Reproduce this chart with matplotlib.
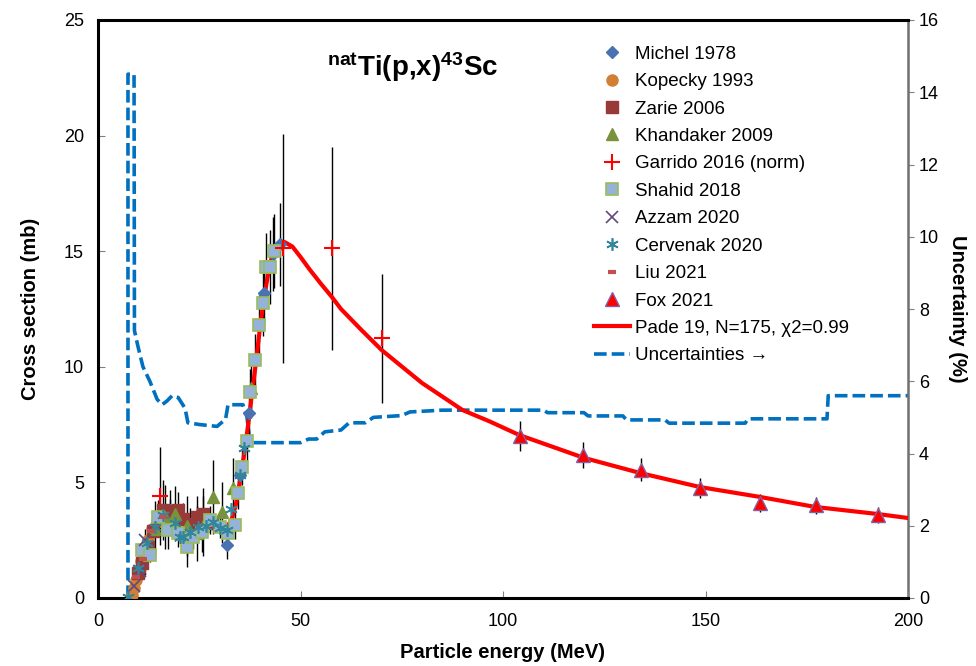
import matplotlib
matplotlib.use("Agg")
import matplotlib.pyplot as plt
from matplotlib.lines import Line2D

plt.rcParams['font.family'] = ['Liberation Sans', 'DejaVu Sans']
plt.rcParams['mathtext.fontset'] = 'custom'
plt.rcParams['mathtext.rm'] = 'Liberation Sans'
plt.rcParams['mathtext.bf'] = 'Liberation Sans:bold'

# ---- data ----
michel_e = [17.8, 31.8, 35.1, 37.2, 41.0, 43.2, 45.0]
michel_y = [3.8, 2.3, 5.3, 8.0, 13.2, 14.9, 15.3]
michel_err = [0.5, 0.6, 0.6, 0.9, 1.4, 1.6, 1.8]

kopecky_e = [8.3, 8.8, 9.4, 10.0, 10.7, 11.5, 12.4, 13.4, 14.5]
kopecky_y = [0.15, 0.45, 0.8, 1.15, 1.6, 2.0, 2.5, 3.0, 3.3]

zarie_e = [9.9, 10.8, 12.4, 13.7, 14.9, 16.1, 17.8, 19.8, 21.1, 22.6, 24.4, 26.0]
zarie_y = [1.07, 1.5, 2.2, 2.9, 3.45, 3.8, 3.75, 3.8, 3.4, 3.2, 3.5, 3.65]
zarie_err = [0.3, 0.4, 0.5, 0.7, 0.8, 1.3, 0.9, 0.8, 0.7, 0.7, 0.9, 1.1]

khandaker_e = [11.5, 14.0, 16.5, 19.0, 21.9, 24.5, 26.0, 28.4, 30.5, 33.4, 37.9]
khandaker_y = [2.0, 3.0, 3.5, 3.65, 3.1, 2.8, 3.1, 4.35, 3.7, 4.75, 9.1]
khandaker_err = [1.0, 1.2, 1.4, 1.2, 1.3, 1.2, 1.3, 1.6, 1.3, 1.3, 1.3]

garrido_e = [15.3, 45.7, 57.7, 70.0]
garrido_y = [4.41, 15.12, 15.12, 11.23]
garrido_err = [2.1, 4.95, 4.4, 2.8]

shahid_e = [10.8, 12.8, 14.9, 17.3, 19.8, 21.9, 23.5, 25.6, 27.7, 30.1, 32.1,
            33.8, 34.6, 35.5, 36.7, 37.5, 38.8, 39.8, 40.7, 41.6, 42.5, 43.5]
shahid_y = [2.08, 1.86, 3.52, 2.94, 2.8, 2.22, 2.64, 2.87, 3.37, 3.08, 2.8,
            3.16, 4.53, 5.68, 6.8, 8.9, 10.3, 11.8, 12.75, 14.3, 14.3, 15.0]
shahid_err = [0.3, 0.3, 0.5, 0.8, 0.6, 0.9, 0.5, 0.9, 0.6, 0.5, 0.5,
              0.6, 0.7, 0.8, 0.9, 1.0, 1.1, 1.3, 1.4, 1.5, 1.6, 1.6]

azzam_e = [9.0, 10.4, 11.6]
azzam_y = [0.5, 1.15, 2.5]

cervenak_e = [7.5, 9.9, 12.0, 14.1, 16.1, 19.0, 20.2, 21.1, 22.7, 24.8, 26.6,
              28.5, 30.1, 31.8, 32.8, 35.1, 36.1]
cervenak_y = [0.06, 1.28, 2.36, 3.08, 3.59, 3.23, 2.65, 2.65, 2.85, 3.08, 3.12,
              3.3, 3.01, 2.94, 3.85, 5.3, 6.5]

liu_e = [9.5, 11.0, 13.0, 16.0]
liu_y = [0.9, 1.7, 2.9, 3.5]

fox_e = [104.2, 119.8, 134.0, 148.6, 163.5, 177.3, 192.6]
fox_y = [7.0, 6.19, 5.54, 4.76, 4.11, 4.02, 3.59]
fox_err = [0.65, 0.55, 0.5, 0.45, 0.37, 0.37, 0.34]

pade_e = [7.5, 9, 10, 11, 12, 13, 14, 15, 17, 19, 21, 23, 25, 27, 29, 31, 32, 33,
          34, 35, 36, 37, 38, 39, 40, 41, 42, 43, 44, 45, 46, 47, 48, 50, 52.3,
          55, 57.7, 60, 65, 70, 80, 90, 96.8, 104, 120, 134, 148.6, 163.5, 177,
          192.6, 200]
pade_y = [0.0, 0.6, 1.2, 1.8, 2.3, 2.8, 3.2, 3.45, 3.6, 3.55, 3.4, 3.2, 3.1,
          3.05, 3.0, 3.0, 3.1, 3.4, 4.0, 5.0, 6.1, 7.4, 8.8, 10.2, 11.7, 13.0,
          14.0, 14.8, 15.2, 15.4, 15.4, 15.3, 15.2, 14.75, 14.2, 13.6, 13.03,
          12.5, 11.6, 10.73, 9.3, 8.13, 7.63, 7.05, 6.06, 5.4, 4.8, 4.37, 3.94,
          3.63, 3.46]

unc_e = [7.4, 7.4, 8.9, 9.0, 9.9, 11.1, 12.8, 14.6, 15.8, 17.0, 18.3, 19.8,
         21.5, 22.2, 25.2, 29.4, 31.5, 32.1, 35.8, 36.8, 37.5, 43, 50, 52, 54,
         56, 60, 62, 66, 68, 75, 77, 85, 110, 111, 120, 121, 129.6, 130.5, 140,
         141, 159.8, 160.5, 180, 180.3, 200]
unc_p = [0, 14.5, 14.5, 7.4, 6.95, 6.4, 6.0, 5.5, 5.35, 5.45, 5.6, 5.55, 5.25,
         4.85, 4.8, 4.75, 4.95, 5.35, 5.35, 5.0, 4.3, 4.3, 4.3, 4.4, 4.4, 4.6,
         4.65, 4.85, 4.85, 5.0, 5.05, 5.15, 5.2, 5.2, 5.13, 5.13, 5.04, 5.04,
         4.93, 4.93, 4.84, 4.84, 4.96, 4.96, 5.6, 5.6]

fig = plt.figure(figsize=(9.76, 6.66), dpi=100)
ax = fig.add_axes([98 / 976, 68 / 666, 810 / 976, 578 / 666])
ax2 = ax.twinx()
ax.set_zorder(ax2.get_zorder() + 1)
ax.patch.set_visible(False)

# uncertainties on the right axis
ax2.plot(unc_e, unc_p, color='#0070c0', lw=2.6, dashes=(3.5, 1.4))

# error bars
eb = dict(fmt='none', ecolor='black', elinewidth=1.0, capsize=0, zorder=1)
ax.errorbar(michel_e, michel_y, yerr=michel_err, **eb)
ax.errorbar(zarie_e, zarie_y, yerr=zarie_err, **eb)
ax.errorbar(khandaker_e, khandaker_y, yerr=khandaker_err, **eb)
ax.errorbar(garrido_e, garrido_y, yerr=garrido_err, **eb)
ax.errorbar(shahid_e, shahid_y, yerr=shahid_err, **eb)
ax.errorbar(fox_e, fox_y, yerr=fox_err, **eb)

ax.plot(pade_e, pade_y, color='#ff0000', lw=3.0, zorder=2)

ms = 8
h_michel, = ax.plot(michel_e, michel_y, 'D', color='#4a72b0', ms=6.5, ls='none', zorder=3)
h_kop, = ax.plot(kopecky_e, kopecky_y, 'o', color='#d07f35', ms=ms, ls='none', zorder=3)
h_zarie, = ax.plot(zarie_e, zarie_y, 's', color='#983b38', ms=ms, ls='none', zorder=3)
h_khan, = ax.plot(khandaker_e, khandaker_y, '^', color='#77933c', ms=ms + 1, ls='none', zorder=3)
h_garr, = ax.plot(garrido_e, garrido_y, '+', color='#ff0000', ms=11, mew=1.5, ls='none', zorder=4)
h_shah, = ax.plot(shahid_e, shahid_y, 's', mfc='#95b3d7', mec='#9bbb59', mew=1.2, ms=ms + 1, ls='none', zorder=3)
h_azz, = ax.plot(azzam_e, azzam_y, 'x', color='#604a7b', ms=ms, mew=1.2, ls='none', zorder=4)
h_cerv, = ax.plot(cervenak_e, cervenak_y, marker=(6, 2, 0), color='#31859c', ms=ms + 1, mew=1.2, ls='none', zorder=4)
h_liu, = ax.plot(liu_e, liu_y, '_', color='#c0504d', ms=6, mew=3, ls='none', zorder=4)
h_fox, = ax.plot(fox_e, fox_y, '^', mfc='#ff0000', mec='#8064a2', mew=1, ms=ms + 2, ls='none', zorder=4)
h_pade = Line2D([], [], color='#ff0000', lw=3.0)
h_unc = Line2D([], [], color='#0070c0', lw=2.6, dashes=(3.5, 1.4))

ax.set_xlim(0, 200)
ax.set_ylim(0, 25)
ax2.set_ylim(0, 16)
ax.set_xticks([0, 50, 100, 150, 200])
ax.set_yticks([0, 5, 10, 15, 20, 25])
ax2.set_yticks([0, 2, 4, 6, 8, 10, 12, 14, 16])

ax.tick_params(axis='both', direction='in', length=5, color='#808080', labelsize=13)
ax.tick_params(axis='x', pad=11)
ax.tick_params(axis='y', pad=10)
ax2.tick_params(axis='y', direction='out', length=4, color='#808080', labelsize=13, pad=4)

for s in ['left', 'bottom', 'top']:
    ax.spines[s].set_linewidth(2.2)
    ax.spines[s].set_color('black')
ax.spines['right'].set_visible(False)
for s in ['left', 'bottom', 'top']:
    ax2.spines[s].set_visible(False)
ax2.spines['right'].set_linewidth(1.8)
ax2.spines['right'].set_color('#707070')

ax.set_xlabel('Particle energy (MeV)', fontsize=14.5, fontweight='bold', labelpad=9)
ax.set_ylabel('Cross section (mb)', fontsize=14.5, fontweight='bold', labelpad=17)
ax2.set_ylabel('Uncertainty (%)', fontsize=14.5, fontweight='bold', rotation=270, labelpad=20)

ax.text(0.388, 0.919, r'$\mathbf{^{nat}Ti(p{,}x)^{43}Sc}$', transform=ax.transAxes,
        ha='center', va='center', fontsize=20)

handles = [h_michel, h_kop, h_zarie, h_khan, h_garr, h_shah, h_azz, h_cerv,
           h_liu, h_fox, h_pade, h_unc]
labels = ['Michel 1978', 'Kopecky 1993', 'Zarie 2006', 'Khandaker 2009',
          'Garrido 2016 (norm)', 'Shahid 2018', 'Azzam 2020', 'Cervenak 2020',
          'Liu 2021', 'Fox 2021', 'Pade 19, N=175, \u03c72=0.99', 'Uncertainties \u2192']
ax.legend(handles, labels, loc='upper left', bbox_to_anchor=(0.601, 0.972),
          frameon=False, fontsize=13.5, handlelength=1.9, handletextpad=0.3,
          labelspacing=0.55, borderpad=0, numpoints=1)

fig.savefig('out.png', dpi=100)
